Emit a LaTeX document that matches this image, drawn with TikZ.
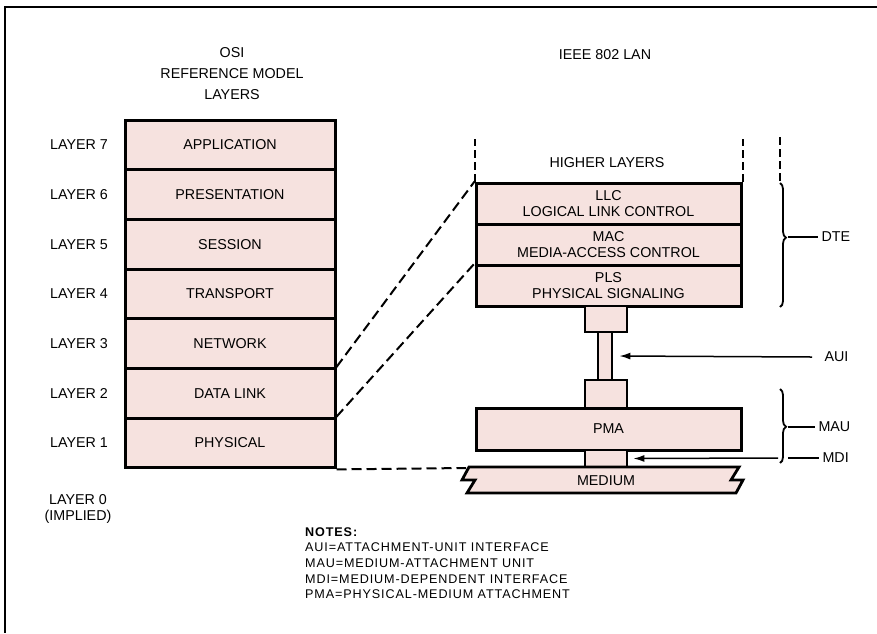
\documentclass[tikz,border=0pt]{standalone}
\usepackage{fontspec}
\setmainfont{Liberation Sans}
\usetikzlibrary{arrows.meta,positioning,decorations.pathreplacing}
\definecolor{layerpink}{RGB}{246,226,223}
\newcommand{\osifont}{\fontsize{14.3}{16.5}\selectfont}
\newcommand{\notefont}{\fontsize{12.6}{15.7}\selectfont\addfontfeature{LetterSpace=7}}
\tikzset{
  osirow/.style={draw=black,fill=layerpink,line width=3pt,minimum width=210pt,minimum height=49.7pt,
    inner sep=0pt,align=center,font=\osifont},
  lanrow/.style={osirow,minimum width=265pt,minimum height=41pt},
  stub/.style={draw=black,fill=layerpink,line width=2.8pt,inner sep=0pt},
  layerlabel/.style={font=\osifont,align=center},
  linkdash/.style={line width=2pt,dash pattern=on 10pt off 5pt},
  sidedash/.style={line width=2pt,dash pattern=on 8pt off 4pt},
  pointer/.style={-{Latex[length=11pt,width=7pt]},line width=1.5pt},
  tick/.style={line width=1.8pt},
  sidebrace/.style={decorate,decoration={brace,amplitude=6pt,aspect=#1},line width=1.8pt}
}
\begin{document}
\begin{tikzpicture}[x=1pt,y=-1pt]
  \useasboundingbox (0,0) rectangle (877,633);
  \fill[white] (0,0) rectangle (877,633);
  % page frame
  \draw[line width=2pt] (877,7) -- (5,7) -- (5,633);

  % OSI reference model
  \node[layerlabel,font=\fontsize{14.3}{21}\selectfont] (osititle) at (232,74) {OSI\\REFERENCE MODEL\\LAYERS};
  \node[osirow] (app)   at (230,144.85) {APPLICATION};
  \node[osirow] (pres)  at (230,194.55) {PRESENTATION};
  \node[osirow] (sess)  at (230,244.25) {SESSION};
  \node[osirow] (trans) at (230,293.95) {TRANSPORT};
  \node[osirow] (net)   at (230,343.65) {NETWORK};
  \node[osirow] (dlink) at (230,393.35) {DATA LINK};
  \node[osirow] (phys)  at (230,443.05) {PHYSICAL};

  \node[layerlabel] (l7) at (79,144.85) {LAYER 7};
  \node[layerlabel] (l6) at (79,194.55) {LAYER 6};
  \node[layerlabel] (l5) at (79,244.25) {LAYER 5};
  \node[layerlabel] (l4) at (79,293.95) {LAYER 4};
  \node[layerlabel] (l3) at (79,343.65) {LAYER 3};
  \node[layerlabel] (l2) at (79,393.35) {LAYER 2};
  \node[layerlabel] (l1) at (79,443.05) {LAYER 1};
  \node[layerlabel] (l0) at (78,509) {LAYER 0\\(IMPLIED)};

  % IEEE 802 LAN
  \node[layerlabel] (lantitle) at (605,55) {IEEE 802 LAN};
  \node[layerlabel] (higher) at (607,163) {HIGHER LAYERS};
  \node[lanrow] (llc) at (608.5,203.5) {LLC\\LOGICAL LINK CONTROL};
  \node[lanrow] (mac) at (608.5,244.5) {MAC\\MEDIA-ACCESS CONTROL};
  \node[lanrow] (pls) at (608.5,285.5) {PLS\\PHYSICAL SIGNALING};
  \node[stub,minimum width=42pt,minimum height=26pt] (auitop) at (606,319) {};
  \node[stub,minimum width=14pt,minimum height=48pt] (auirod) at (605,356) {};
  \node[stub,minimum width=42pt,minimum height=28pt] (auibot) at (606,394) {};
  \node[lanrow,minimum height=42pt] (pma) at (608.5,429) {PMA};
  \node[stub,minimum width=42pt,minimum height=17pt] (mdistub) at (606,458.5) {};
  \fill[layerpink,draw=black,line width=2.8pt,line join=miter]
    (469,467) -- (739,467) -- (731,480) -- (743,480) -- (736,493)
    -- (467,493) -- (475,480) -- (462,480) -- cycle;
  \node[layerlabel] (medium) at (606,481) {MEDIUM};
  \coordinate (medleft) at (466,468);

  \draw[sidedash] (llc.north west) -- ++(0,-43);
  \draw[sidedash] (llc.north east) -- ++(0,-43);

  % mapping between the two models
  \draw[linkdash] (dlink.north east) -- (llc.north west);
  \draw[linkdash] (phys.north east) -- (pls.north west);
  \draw[linkdash] (phys.south east) -- (medleft);

  % braces and interface labels
  \node[layerlabel,anchor=west] (dte) at (818,237) {DTE};
  \node[layerlabel,anchor=west] (aui) at (821,357) {AUI};
  \node[layerlabel,anchor=west] (mau) at (815,427) {MAU};
  \node[layerlabel,anchor=west] (mdi) at (819,458) {MDI};

  \draw[sidedash] (780,137) -- (780,181);
  \draw[sidebrace=0.44] (780,183) -- (780,307);
  \draw[sidebrace=0.51] (780,389) -- (780,463);
  \draw[tick] (788,237) -- (dte.west);
  \draw[tick] (788,427) -- (mau.west);
  \draw[tick] (788,458) -- (mdi.west);
  \coordinate (mdifrom) at (778,458);
  \draw[pointer] (aui.west) ++(-9,0) -- ([xshift=6pt]auirod.east);
  \draw[pointer] (mdifrom) -- ([xshift=5pt]mdistub.east);

  % notes
  \node[anchor=north west,align=left,inner sep=0pt,font=\notefont] (notes) at (305,527)
    {\textbf{NOTES:}\\AUI=ATTACHMENT-UNIT INTERFACE\\MAU=MEDIUM-ATTACHMENT UNIT\\
     MDI=MEDIUM-DEPENDENT INTERFACE\\PMA=PHYSICAL-MEDIUM ATTACHMENT};
\end{tikzpicture}
\end{document}
